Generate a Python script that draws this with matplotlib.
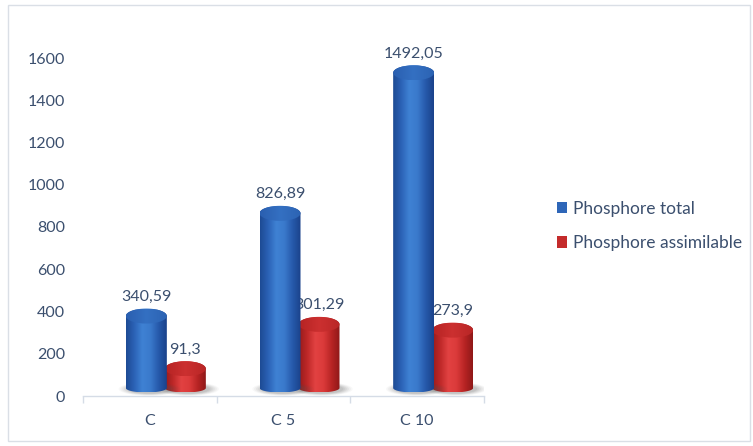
import numpy as np
import matplotlib
matplotlib.use("Agg")
import matplotlib.pyplot as plt
from matplotlib.patches import Polygon, Ellipse, Rectangle, Patch
from matplotlib.colors import LinearSegmentedColormap

categories = ["C", "C 5", "C 10"]
series_names = ["Phosphore total", "Phosphore assimilable"]
phosphore_total = [340.59, 826.89, 1492.05]
phosphore_assimilable = [91.3, 301.29, 273.9]
value_labels_total = ["340,59", "826,89", "1492,05"]
value_labels_assim = ["91,3", "301,29", "273,9"]
y_ticks = [0, 200, 400, 600, 800, 1000, 1200, 1400, 1600]

W, H, DPI = 753, 446, 100
TEXT = "#3B4F6E"
FONT = "Lato"
FS = 11.5

plt.rcParams["font.family"] = [FONT, "DejaVu Sans"]

fig = plt.figure(figsize=(W / DPI, H / DPI), dpi=DPI)
fig.patch.set_facecolor("white")

# plot area in pixels
ax_left, ax_right = 83, 484
ax_top, ax_bottom = 58, 396
ax = fig.add_axes([ax_left / W, (H - ax_bottom) / H,
                   (ax_right - ax_left) / W, (ax_bottom - ax_top) / H])
ax.set_xlim(-0.5, 2.5)
ax.set_ylim(0, 1600)
ax.set_facecolor("none")

# pixel -> data scale factors
sx = 3.0 / (ax_right - ax_left)
sy = 1600.0 / (ax_bottom - ax_top)

cyl_w = 41 * sx          # cylinder diameter
top_h = 15 * sy          # top ellipse height (perspective)
bot_h = 9 * sy           # bottom ellipse height
depth_dx = 16 * sx       # 3D depth shift
depth_dy = 8 * sy
gap = 39 * sx            # centre distance of the two cylinders

cmap_blue = LinearSegmentedColormap.from_list(
    "b", ["#1D4A93", "#2B62B6", "#3F82D4", "#3A79CB", "#2659AA", "#1A428A"])
cmap_red = LinearSegmentedColormap.from_list(
    "r", ["#951B1B", "#BE2828", "#E24242", "#DB3A3A", "#B72424", "#8E1818"])
top_blue = LinearSegmentedColormap.from_list("tb", ["#2A5FB0", "#3470C2", "#2C63B3"])
top_red = LinearSegmentedColormap.from_list("tr", ["#B52323", "#CC3030", "#B82626"])


def cylinder(xc, value, body_cmap, top_cmap, z):
    a = cyl_w / 2
    bt = top_h / 2
    bb = bot_h / 2
    yb = depth_dy
    yt = depth_dy + value
    # soft floor shadow
    for k, al in zip(np.linspace(1.5, 1.05, 6), [0.04, 0.05, 0.06, 0.07, 0.08, 0.09]):
        ax.add_patch(Ellipse((xc + 3 * sx, yb - 1 * sy), 2 * a * k, 2 * bb * k,
                             facecolor="#555555", edgecolor="none", alpha=al, zorder=z - 0.5))
    t1 = np.linspace(np.pi, 2 * np.pi, 60)
    t2 = np.linspace(0, np.pi, 60)
    pts = np.vstack([
        np.column_stack([xc + a * np.cos(t1), yb + bb * np.sin(t1)]),
        np.column_stack([xc + a * np.cos(t2), yt + bt * np.sin(t2)]),
    ])
    body = Polygon(pts, closed=True, facecolor="none", edgecolor="none", zorder=z)
    ax.add_patch(body)
    grad = np.linspace(0, 1, 256).reshape(1, -1)
    im = ax.imshow(grad, cmap=body_cmap, aspect="auto", interpolation="bicubic",
                   extent=[xc - a, xc + a, yb - bb, yt + bt], zorder=z)
    im.set_clip_path(body)
    top = Ellipse((xc, yt), 2 * a, 2 * bt, facecolor="none", edgecolor="none", zorder=z + 0.1)
    ax.add_patch(top)
    tg = np.linspace(0, 1, 128).reshape(1, -1)
    im2 = ax.imshow(tg, cmap=top_cmap, aspect="auto", interpolation="bicubic",
                    extent=[xc - a, xc + a, yt - bt, yt + bt], zorder=z + 0.1)
    im2.set_clip_path(top)
    return yt


x = np.arange(len(categories))
label_dy = 19 * sy
for i in range(len(categories)):
    xb = x[i] + depth_dx - gap / 2
    xr = x[i] + depth_dx + gap / 2
    yt_r = cylinder(xr, phosphore_assimilable[i], cmap_red, top_red, 2)
    ax.text(xr, yt_r + label_dy, value_labels_assim[i], ha="center", va="center",
            color=TEXT, fontsize=FS, zorder=2.5, clip_on=False)
    yt_b = cylinder(xb, phosphore_total[i], cmap_blue, top_blue, 3)
    ax.text(xb, yt_b + label_dy, value_labels_total[i], ha="center", va="center",
            color=TEXT, fontsize=FS, zorder=3.5, clip_on=False)

# axes styling
for s in ["left", "top", "right"]:
    ax.spines[s].set_visible(False)
ax.spines["bottom"].set_color("#D5DCE6")
ax.spines["bottom"].set_linewidth(1.0)
ax.set_yticks(y_ticks)
ax.set_yticklabels([str(v) for v in y_ticks])
ax.tick_params(axis="y", length=0, pad=13, labelsize=FS, labelcolor=TEXT)
ax.set_xticks(x)
ax.set_xticklabels(categories)
ax.set_xticks([-0.5, 0.5, 1.5, 2.5], minor=True)
ax.tick_params(axis="x", which="major", length=0, pad=13, labelsize=FS, labelcolor=TEXT)
ax.tick_params(axis="x", which="minor", length=5, width=1.0, color="#D5DCE6", direction="out")

handles = [Patch(facecolor="#2E66B8", edgecolor="none"),
           Patch(facecolor="#C42B2B", edgecolor="none")]
fig.legend(handles, series_names, loc="center left",
           bbox_to_anchor=(541 / W, 1 - 226 / H), frameon=False,
           fontsize=12.5, labelcolor=TEXT, handlelength=0.6, handleheight=0.6,
           handletextpad=0.35, labelspacing=1.05)

# chart frame
fig.add_artist(Rectangle((8 / W, 5 / H), 742 / W, 436 / H, transform=fig.transFigure,
                         facecolor="none", edgecolor="#DADFE6", linewidth=1.0))

fig.savefig("out.png", dpi=DPI, facecolor="white")
